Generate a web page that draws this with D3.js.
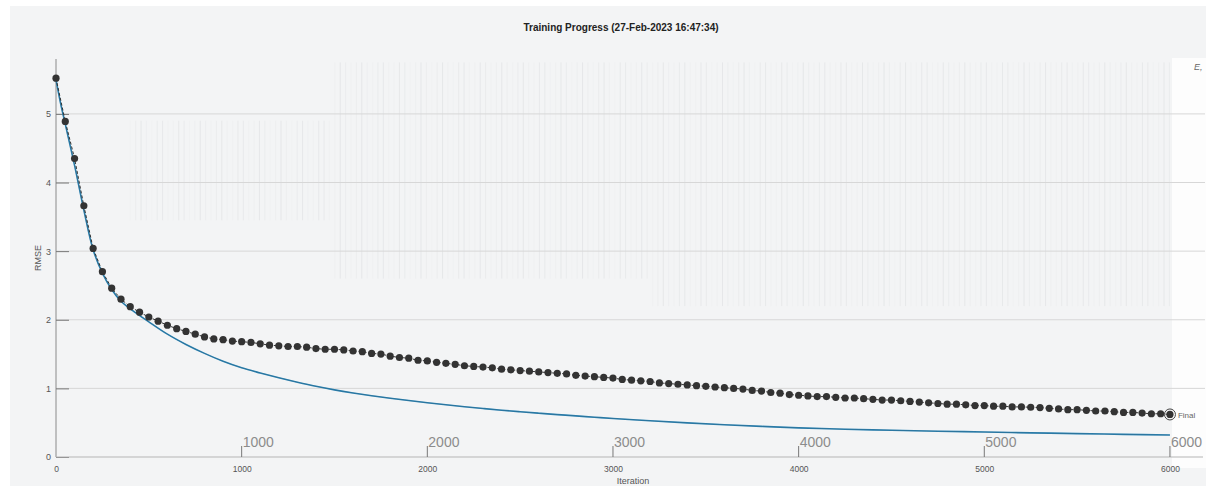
<!DOCTYPE html>
<html>
<head>
<meta charset="utf-8">
<script src="https://cdn.jsdelivr.net/npm/d3@7"></script>
<style>
  html, body { margin: 0; padding: 0; background: #ffffff; }
  svg { display: block; font-family: "Liberation Sans", Arial, sans-serif; }
</style>
</head>
<body>
<svg id="chart" width="1210" height="489"></svg>
<script>
// Validation RMSE, recorded every 50 iterations from 0 to 6000
const validationStep = 50;
const validationRmse = [
  5.52, 4.89, 4.35, 3.66, 3.04, 2.70, 2.46, 2.30, 2.19, 2.11,
  2.04, 1.98, 1.92, 1.87, 1.83, 1.79, 1.75, 1.72, 1.71, 1.69,
  1.68, 1.67, 1.65, 1.63, 1.62, 1.61, 1.61, 1.60, 1.58, 1.57,
  1.57, 1.56, 1.545, 1.535, 1.51, 1.50, 1.47, 1.45, 1.44, 1.41,
  1.40, 1.38, 1.365, 1.35, 1.33, 1.32, 1.31, 1.30, 1.28, 1.27,
  1.26, 1.25, 1.24, 1.23, 1.22, 1.21, 1.19, 1.18, 1.17, 1.16,
  1.15, 1.13, 1.12, 1.11, 1.10, 1.08, 1.07, 1.06, 1.05, 1.04,
  1.03, 1.02, 1.01, 1.00, 0.99, 0.97, 0.96, 0.94, 0.93, 0.91,
  0.90, 0.89, 0.88, 0.88, 0.87, 0.86, 0.86, 0.85, 0.84, 0.83,
  0.83, 0.82, 0.81, 0.80, 0.79, 0.78, 0.77, 0.77, 0.76, 0.75,
  0.75, 0.74, 0.74, 0.73, 0.73, 0.725, 0.72, 0.71, 0.70, 0.69,
  0.69, 0.68, 0.67, 0.67, 0.66, 0.65, 0.65, 0.64, 0.63, 0.63,
  0.62
];
const validationIter = validationRmse.map((_, i) => i * validationStep);

// Smoothed training RMSE
const trainIter = [
  0, 25, 50, 100, 150, 200, 250, 300, 350, 400, 500, 600, 700, 800, 900,
  1000, 1100, 1200, 1300, 1400, 1500, 1600, 1700, 1800, 1900, 2000,
  2100, 2200, 2300, 2400, 2500, 2600, 2700, 2800, 2900, 3000, 3200,
  3400, 3600, 3800, 4000, 4250, 4500, 4750, 5000, 5250, 5500, 5750, 6000
];
const trainRmse = [
  5.50, 5.15, 4.85, 4.25, 3.60, 3.02, 2.68, 2.44, 2.27, 2.16, 1.97, 1.79, 1.64, 1.51, 1.395,
  1.30, 1.225, 1.155, 1.09, 1.03, 0.978, 0.933, 0.893, 0.857, 0.823, 0.791,
  0.761, 0.733, 0.707, 0.682, 0.659, 0.638, 0.618, 0.599, 0.580, 0.562, 0.528,
  0.497, 0.470, 0.446, 0.425, 0.405, 0.39, 0.376, 0.364, 0.352, 0.341, 0.33, 0.32
];

const yTicks = [0, 1, 2, 3, 4, 5];
const xTicks = [0, 1000, 2000, 3000, 4000, 5000, 6000];
const xMajorLabels = [1000, 2000, 3000, 4000, 5000, 6000];

const titleText = "Training Progress (27-Feb-2023 16:47:34)";
const xLabel = "Iteration";
const yLabel = "RMSE";
const finalLabel = "Final";

const svg = d3.select("#chart");

// panel backgrounds
svg.append("rect").attr("x", 10).attr("y", 6).attr("width", 1196).attr("height", 480)
  .attr("fill", "#f3f4f5");
svg.append("rect").attr("x", 1172).attr("y", 58).attr("width", 34).attr("height", 410)
  .attr("fill", "#fdfdfd");

const x = d3.scaleLinear().domain([0, 6178]).range([56, 1203]);
const y = d3.scaleLinear().domain([0, 5.8]).range([457, 59]);

// faint vertical streaks in the upper part of the plot
const streakG = svg.append("g");
d3.range(400, 6000, 29).forEach((it, i) => {
  const shade = 0.05 + 0.22 * Math.pow(Math.abs(Math.sin(i * 2.3)), 3);
  const top = it < 1500 ? 4.9 : 5.75;
  const bottom = it < 1500 ? 3.45 : (it < 3200 ? 2.6 : 2.2);
  streakG.append("line")
    .attr("x1", x(it)).attr("x2", x(it))
    .attr("y1", y(top)).attr("y2", y(bottom))
    .attr("stroke", "#c4c7ca").attr("stroke-width", 1)
    .attr("opacity", shade);
});

// horizontal grid
svg.append("g").selectAll("line").data(yTicks.filter(d => d > 0)).join("line")
  .attr("x1", x(0)).attr("x2", 1205)
  .attr("y1", d => y(d)).attr("y2", d => y(d))
  .attr("stroke", "#d7d7d7").attr("stroke-width", 1);

// y axis: line, inward ticks, labels
const yAxis = d3.axisLeft(y).tickValues(yTicks).tickSize(-13).tickPadding(20).tickFormat(d3.format("d"));
const yg = svg.append("g").attr("transform", `translate(${x(0)},0)`).call(yAxis);
yg.select(".domain").attr("stroke", "#8a8a8a").attr("d", `M0,${y(5.8)}V${y(0)}`);
yg.selectAll(".tick line").attr("stroke", "#777");
yg.selectAll(".tick text").attr("fill", "#555").attr("font-size", 9).attr("x", -5).attr("text-anchor", "end");

// x axis: small labels below
const xAxis = d3.axisBottom(x).tickValues(xTicks).tickSize(0).tickPadding(9).tickFormat(d3.format("d"));
const xg = svg.append("g").attr("transform", `translate(0,${y(0)})`).call(xAxis);
xg.select(".domain").attr("stroke", "#b5b5b5").attr("d", `M${x(0)},0H1203`);
xg.selectAll(".tick text").attr("fill", "#555").attr("font-size", 8.5);

// larger labels above the x axis with short upward ticks
const majorG = svg.append("g");
majorG.selectAll("line").data(xMajorLabels).join("line")
  .attr("x1", d => x(d)).attr("x2", d => x(d))
  .attr("y1", y(0) - 11).attr("y2", y(0))
  .attr("stroke", "#777").attr("stroke-width", 1);
majorG.selectAll("text").data(xMajorLabels).join("text")
  .attr("x", d => x(d) + 1).attr("y", y(0) - 10)
  .attr("fill", "#8c8c8c").attr("font-size", 14)
  .text(d => d);

// smoothed training curve
const trainLine = d3.line().x(d => x(d[0])).y(d => y(d[1])).curve(d3.curveCatmullRom.alpha(0.5));
const trainData = trainIter.map((it, i) => [it, trainRmse[i]]);
svg.append("path").datum(trainData)
  .attr("fill", "none").attr("stroke", "#2b86b8").attr("stroke-width", 1.6)
  .attr("d", trainLine);
svg.append("path").datum(trainData)
  .attr("fill", "none").attr("stroke", "#2a4a5a").attr("stroke-width", 0.6).attr("opacity", 0.5)
  .attr("d", trainLine);

// validation: dashed line with markers
const valData = validationIter.map((it, i) => [it, validationRmse[i]]);
svg.append("path").datum(valData)
  .attr("fill", "none").attr("stroke", "#333").attr("stroke-width", 1)
  .attr("stroke-dasharray", "3,2")
  .attr("d", d3.line().x(d => x(d[0])).y(d => y(d[1])));
svg.append("g").selectAll("circle").data(valData).join("circle")
  .attr("cx", d => x(d[0])).attr("cy", d => y(d[1])).attr("r", 3.6)
  .attr("fill", "#333");

// final validation marker
const last = valData[valData.length - 1];
svg.append("circle").attr("cx", x(last[0])).attr("cy", y(last[1])).attr("r", 5.5)
  .attr("fill", "none").attr("stroke", "#444").attr("stroke-width", 1);
svg.append("text").attr("x", x(last[0]) + 8).attr("y", y(last[1]) + 3.5)
  .attr("fill", "#666").attr("font-size", 8).text(finalLabel);

// titles
svg.append("text").attr("x", 621).attr("y", 31).attr("text-anchor", "middle")
  .attr("font-size", 10).attr("font-weight", "bold").attr("fill", "#222").text(titleText);
svg.append("text").attr("x", 633).attr("y", 484).attr("text-anchor", "middle")
  .attr("font-size", 9).attr("fill", "#555").text(xLabel);
svg.append("text").attr("transform", "translate(41,258) rotate(-90)").attr("text-anchor", "middle")
  .attr("font-size", 9).attr("fill", "#555").text(yLabel);
svg.append("text").attr("x", 1194).attr("y", 70)
  .attr("font-size", 9).attr("font-style", "italic").attr("fill", "#666").text("E,");
</script>
</body>
</html>
